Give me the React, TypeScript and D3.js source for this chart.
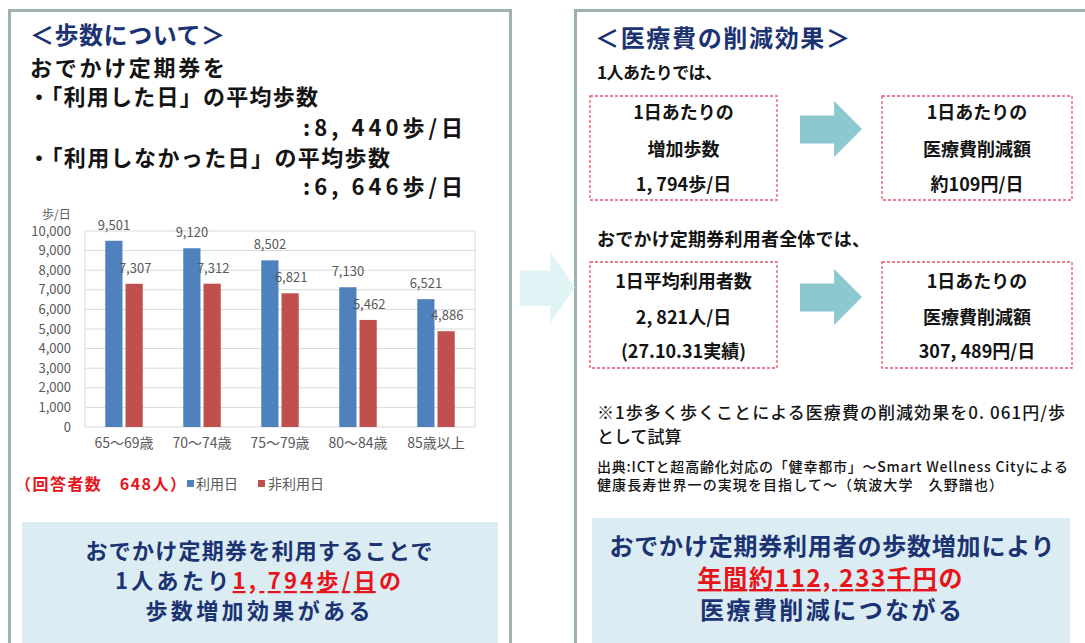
import React from "react";
import * as d3 from "d3";

const categories = ["65～69歳", "70～74歳", "75～79歳", "80～84歳", "85歳以上"];
const usedDays = [9501, 9120, 8502, 7130, 6521];
const unusedDays = [7307, 7312, 6821, 5462, 4886];
const seriesNames = ["利用日", "非利用日"];
const seriesColors = ["#4f81bd", "#c0504d"];
const yTicks = [0, 1000, 2000, 3000, 4000, 5000, 6000, 7000, 8000, 9000, 10000];

const NAVY = "#1b3372";
const RED = "#e8141c";
const INK = "#141414";
const FONT = "'Noto Sans CJK JP', 'Noto Sans', sans-serif";
const AXIS = "'Noto Sans CJK JP', 'Open Sans', sans-serif";

function Chart() {
  const x = d3.scaleBand<string>().domain(categories).range([85, 475]);
  const inner = d3.scaleBand<string>().domain(seriesNames).range([0, x.bandwidth()]).paddingInner(0.15).paddingOuter(1);
  const y = d3.scaleLinear().domain([0, 10000]).range([427, 231]);
  const fmt = d3.format(",");
  const series = [usedDays, unusedDays];
  return (
    <g>
      {yTicks.map((t) => (
        <g key={t}>
          <line x1={85} x2={475} y1={y(t)} y2={y(t)} stroke="#d9d9d9" strokeWidth={1} />
          <text x={71} y={y(t) + 4.5} textAnchor="end" fontSize={13} fill="#595959" fontFamily={AXIS}>
            {fmt(t)}
          </text>
        </g>
      ))}
      <line x1={85} x2={85} y1={y(10000)} y2={y(0)} stroke="#d9d9d9" />
      <line x1={475} x2={475} y1={y(10000)} y2={y(0)} stroke="#d9d9d9" />
      <text x={42} y={219} fontSize={12} fill="#595959" fontFamily={AXIS}>歩/日</text>
      {series.map((vals, si) =>
        vals.map((v, i) => {
          const bx = (x(categories[i]) as number) + (inner(seriesNames[si]) as number);
          return (
            <g key={si + "-" + i}>
              <rect x={bx} y={y(v)} width={inner.bandwidth()} height={y(0) - y(v)} fill={seriesColors[si]} />
              <text x={bx + inner.bandwidth() / 2 + si} y={y(v) - 11} textAnchor="middle" fontSize={13} fill="#595959" fontFamily={AXIS}>
                {fmt(v)}
              </text>
            </g>
          );
        })
      )}
      {categories.map((c) => (
        <text key={c} x={(x(c) as number) + x.bandwidth() / 2} y={448} textAnchor="middle" fontSize={14} fill="#595959" fontFamily={AXIS}>
          {c}
        </text>
      ))}
      <text x={15} y={490} fontSize={16} fontWeight="bold" fill={RED} fontFamily={FONT} textLength={171}>（回答者数　648人）</text>
      <rect x={187} y={480} width={7} height={7} fill={seriesColors[0]} />
      <text x={196} y={489} fontSize={14} fill="#595959" fontFamily={AXIS}>{seriesNames[0]}</text>
      <rect x={258} y={480} width={7} height={7} fill={seriesColors[1]} />
      <text x={268} y={489} fontSize={14} fill="#595959" fontFamily={AXIS}>{seriesNames[1]}</text>
    </g>
  );
}

function Arrow({ x0, y0, w, h, fill }: { x0: number; y0: number; w: number; h: number; fill: string }) {
  const shaftW = w * 0.55;
  const sTop = y0 + h * 0.26;
  const sBot = y0 + h * 0.76;
  const p = d3.path();
  p.moveTo(x0, sTop);
  p.lineTo(x0 + shaftW, sTop);
  p.lineTo(x0 + shaftW, y0);
  p.lineTo(x0 + w, y0 + h / 2);
  p.lineTo(x0 + shaftW, y0 + h);
  p.lineTo(x0 + shaftW, sBot);
  p.lineTo(x0, sBot);
  p.closePath();
  return <path d={p.toString()} fill={fill} />;
}

function DashBox({ x0, y0, w, h, lines, ys }: { x0: number; y0: number; w: number; h: number; lines: string[]; ys: number[] }) {
  return (
    <g>
      <rect x={x0} y={y0} width={w} height={h} fill="#fff" stroke="#e4566a" strokeWidth={1.3} strokeDasharray="3,2" />
      <text textAnchor="middle" fontSize={18} fontWeight="bold" fill={INK} fontFamily={FONT}>
        {lines.map((t, i) => (
          <tspan key={t} x={x0 + w / 2} y={ys[i]}>{t}</tspan>
        ))}
      </text>
    </g>
  );
}

export default function App() {
  return (
    <svg width={1085} height={643} style={{ position: "absolute", left: 0, top: 0, background: "#fff" }}>
      <rect x={0} y={0} width={1085} height={643} fill="#fff" />
      {/* panels */}
      <rect x={9.5} y={10.5} width={501} height={660} fill="#fff" stroke="#9db1ae" strokeWidth={3} />
      <rect x={575.5} y={10.5} width={540} height={660} fill="#fff" stroke="#9db1ae" strokeWidth={3} />
      <Arrow x0={520} y0={252} w={55} h={71} fill="#e0f3f5" />

      {/* left panel text */}
      <text x={30} y={44} fontSize={24} fontWeight="bold" fill={NAVY} fontFamily={FONT} textLength={195}>＜歩数について＞</text>
      <text fontSize={22} fontWeight="bold" fill={INK} fontFamily={FONT}>
        <tspan x={30} y={76} textLength={195}>おでかけ定期券を</tspan>
        <tspan x={28} y={105} textLength={290}>・「利用した日」の平均歩数</tspan>
        <tspan x={303} y={136} textLength={160}>:8, 440歩/日</tspan>
        <tspan x={28} y={166} textLength={362}>・「利用しなかった日」の平均歩数</tspan>
        <tspan x={303} y={195} textLength={160}>:6, 646歩/日</tspan>
      </text>

      <Chart />

      <rect x={22} y={522} width={476} height={125} fill="#dbedf2" />
      <text textAnchor="middle" fontSize={22} fontWeight="bold" fill={NAVY} fontFamily={FONT}>
        <tspan x={259} y={559} textLength={347}>おでかけ定期券を利用することで</tspan>
        <tspan x={258} y={589} textLength={286}>1人あたり<tspan fill={RED} textDecoration="underline" style={{ textDecoration: "underline" }}>1, 794歩/日</tspan><tspan fill={RED}>の</tspan></tspan>
        <tspan x={258} y={619} textLength={225}>歩数増加効果がある</tspan>
      </text>

      {/* right panel text */}
      <text x={595} y={47} fontSize={24} fontWeight="bold" fill={NAVY} fontFamily={FONT} textLength={255}>＜医療費の削減効果＞</text>
      <text x={597} y={79} fontSize={17} fontWeight="bold" fill={INK} fontFamily={FONT} textLength={125}>1人あたりでは、</text>
      <DashBox x0={590} y0={96} w={187} h={104} lines={["1日あたりの", "増加歩数", "1, 794歩/日"]} ys={[119, 156, 191]} />
      <Arrow x0={800} y0={101} w={62} h={56} fill="#8cc8cf" />
      <DashBox x0={882} y0={96} w={190} h={104} lines={["1日あたりの", "医療費削減額", "約109円/日"]} ys={[119, 156, 191]} />

      <text x={597} y={246} fontSize={18} fontWeight="bold" fill={INK} fontFamily={FONT} textLength={273}>おでかけ定期券利用者全体では、</text>
      <DashBox x0={590} y0={262} w={187} h={106} lines={["1日平均利用者数", "2, 821人/日", "(27.10.31実績)"]} ys={[288, 324, 358]} />
      <Arrow x0={800} y0={269} w={62} h={56} fill="#8cc8cf" />
      <DashBox x0={882} y0={262} w={190} h={106} lines={["1日あたりの", "医療費削減額", "307, 489円/日"]} ys={[288, 324, 358]} />

      <text fontSize={17} fontWeight="500" fill={INK} fontFamily={FONT}>
        <tspan x={597} y={419} textLength={468}>※1歩多く歩くことによる医療費の削減効果を0. 061円/歩</tspan>
        <tspan x={597} y={443}>として試算</tspan>
      </text>
      <text fontSize={14} fontWeight="500" fill={INK} fontFamily={FONT}>
        <tspan x={597} y={472} textLength={471}>出典:ICTと超高齢化対応の「健幸都市」～Smart Wellness Cityによる</tspan>
        <tspan x={597} y={490} textLength={406}>健康長寿世界一の実現を目指して～（筑波大学　久野譜也）</tspan>
      </text>

      <rect x={592} y={518} width={478} height={130} fill="#dbedf2" />
      <text textAnchor="middle" fontSize={24} fontWeight="bold" fill={NAVY} fontFamily={FONT}>
        <tspan x={832} y={555} textLength={445}>おでかけ定期券利用者の歩数増加により</tspan>
        <tspan x={830} y={587} fill={RED} textLength={265}><tspan textDecoration="underline" style={{ textDecoration: "underline" }}>年間約112, 233千円</tspan>の</tspan>
        <tspan x={831} y={619} textLength={262}>医療費削減につながる</tspan>
      </text>
    </svg>
  );
}
